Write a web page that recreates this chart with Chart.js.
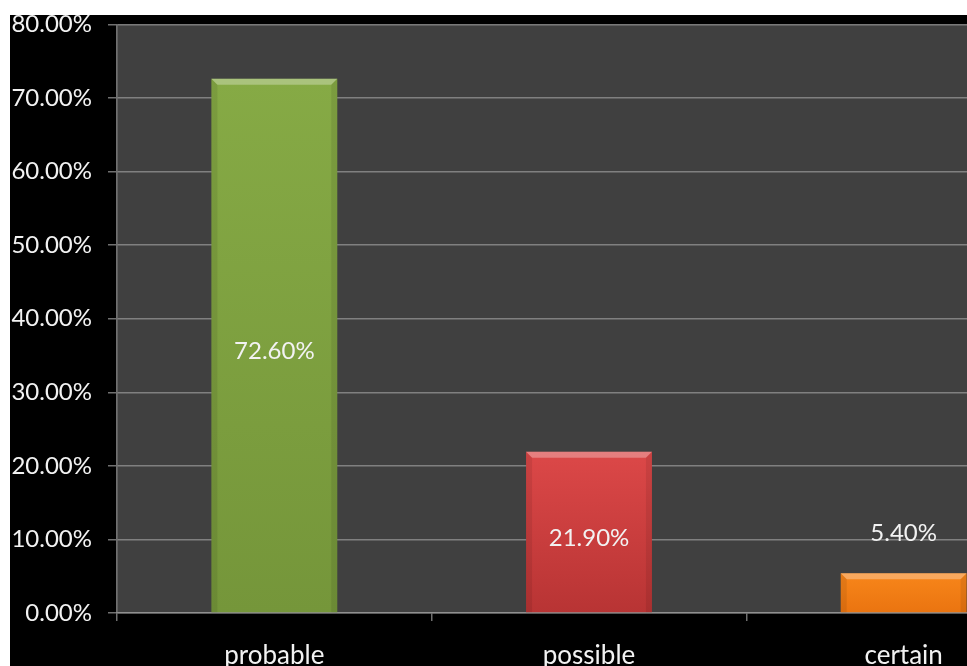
<!DOCTYPE html>
<html>
<head>
<meta charset="utf-8">
<script src="https://cdn.jsdelivr.net/npm/chart.js@4"></script>
<style>
  html, body { margin: 0; padding: 0; background: #fff; overflow: hidden; width: 967px; height: 666px; }
  #bg { position: absolute; left: 10px; top: 15px; width: 1100px; height: 700px; background: #000; }
  #wrap { position: absolute; left: 10px; top: -6px; }
</style>
</head>
<body>
<div id="bg"></div>
<div id="wrap"><canvas id="chart" width="1051" height="676"></canvas></div>
<script>
// data
const categories = ['probable', 'possible', 'certain'];
const shares = [72.6, 21.9, 5.4];
const yTicks = [0, 10, 20, 30, 40, 50, 60, 70, 80];

const barTop = ['#86aa45', '#dc4848', '#f8861a'];
const barBottom = ['#75963a', '#b83434', '#ea7410'];

const FONT = "Lato, 'Open Sans', sans-serif";

// dark plot background
const plotBg = {
  id: 'plotBg',
  beforeDraw(chart) {
    const { ctx, chartArea: a } = chart;
    ctx.save();
    ctx.fillStyle = '#404040';
    ctx.fillRect(a.left, a.top, a.right - a.left, a.bottom - a.top);
    ctx.restore();
  }
};

// bevel highlight on each bar + value labels
const bevelLabels = {
  id: 'bevelLabels',
  afterDatasetsDraw(chart) {
    const { ctx } = chart;
    const meta = chart.getDatasetMeta(0);
    meta.data.forEach((bar, i) => {
      const l = bar.x - bar.width / 2, r = bar.x + bar.width / 2;
      const t = bar.y, b = bar.base, bev = 6;
      ctx.save();
      ctx.fillStyle = 'rgba(255,255,255,0.30)';
      ctx.beginPath();
      ctx.moveTo(l, t); ctx.lineTo(r, t); ctx.lineTo(r - bev, t + bev); ctx.lineTo(l + bev, t + bev);
      ctx.closePath(); ctx.fill();
      ctx.fillStyle = 'rgba(0,0,0,0.08)';
      ctx.beginPath();
      ctx.moveTo(l, t); ctx.lineTo(l + bev, t + bev); ctx.lineTo(l + bev, b); ctx.lineTo(l, b);
      ctx.closePath(); ctx.fill();
      ctx.beginPath();
      ctx.moveTo(r, t); ctx.lineTo(r - bev, t + bev); ctx.lineTo(r - bev, b); ctx.lineTo(r, b);
      ctx.closePath(); ctx.fill();
      // value label
      ctx.fillStyle = '#f2f2f2';
      ctx.font = '24px ' + FONT;
      ctx.textAlign = 'center';
      ctx.textBaseline = 'middle';
      const y = (b - t) > 60 ? (t + b) / 2 + 6 : t - 40;
      ctx.fillText(shares[i].toFixed(2) + '%', bar.x, y);
      ctx.restore();
    });
  }
};

new Chart(document.getElementById('chart'), {
  type: 'bar',
  data: {
    labels: categories,
    datasets: [{
      data: shares,
      backgroundColor: ctx => {
        const { chart, dataIndex } = ctx;
        const a = chart.chartArea;
        if (!a) return barTop[dataIndex];
        const y0 = chart.scales.y.getPixelForValue(shares[dataIndex]);
        const g = chart.ctx.createLinearGradient(0, y0, 0, a.bottom);
        g.addColorStop(0, barTop[dataIndex]);
        g.addColorStop(1, barBottom[dataIndex]);
        return g;
      },
      borderWidth: 0,
      barPercentage: 0.4,
      categoryPercentage: 1
    }]
  },
  options: {
    responsive: false,
    animation: false,
    layout: { padding: { top: 14, bottom: 3, left: 0, right: 0 } },
    plugins: { legend: { display: false }, tooltip: { enabled: false } },
    scales: {
      y: {
        min: 0,
        max: 80,
        afterFit: s => { s.width = 107; },
        afterBuildTicks: s => { s.ticks = yTicks.map(v => ({ value: v })); },
        grid: { color: 'rgba(150,150,150,0.75)', lineWidth: 1.5, tickLength: 9, tickColor: 'rgba(150,150,150,0.75)' },
        border: { color: 'rgba(150,150,150,0.75)', width: 1.5 },
        ticks: {
          color: '#f2f2f2',
          padding: 16,
          font: { family: FONT, size: 24 },
          callback: v => v.toFixed(2) + '%'
        }
      },
      x: {
        afterFit: s => { s.height = 54; },
        grid: { drawOnChartArea: false, drawTicks: true, tickLength: 8, offset: true, color: 'rgba(150,150,150,0.75)', lineWidth: 1.5 },
        border: { color: 'rgba(150,150,150,0.75)', width: 1.5 },
        ticks: { color: '#f2f2f2', padding: 19, font: { family: FONT, size: 26 } }
      }
    }
  },
  plugins: [plotBg, bevelLabels]
});
</script>
</body>
</html>
